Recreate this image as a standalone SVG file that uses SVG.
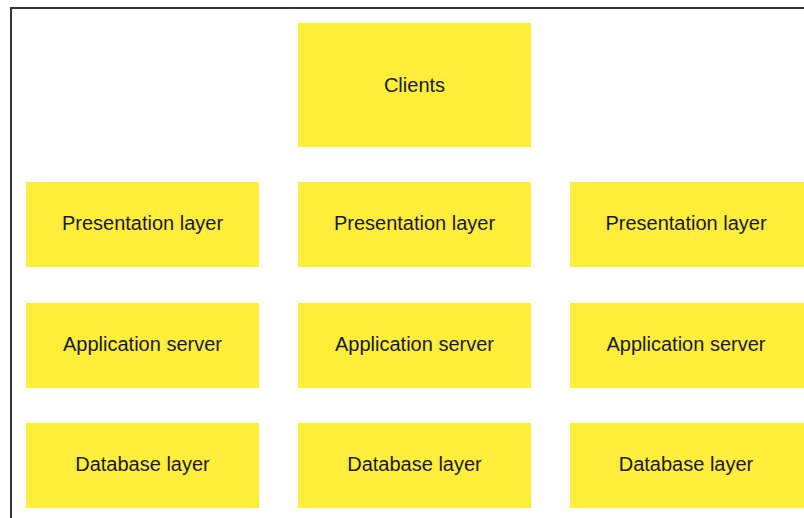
<svg xmlns="http://www.w3.org/2000/svg" width="804" height="518" viewBox="0 0 804 518">
<style>
.box{fill:#FEEE3A;}
.t{font-family:"Liberation Sans",Arial,sans-serif;font-size:20px;fill:#1a1a1a;text-anchor:middle;dominant-baseline:central;}
.frame{fill:none;stroke:#333;stroke-width:2;}
</style>
<rect width="804" height="518" fill="#fff"/>
<path class="frame" d="M11,518 V8 H804"/>
<g id="clients"><rect class="box" x="298" y="23" width="233" height="124"/><text class="t" x="414.5" y="85">Clients</text></g>
<g id="pres1"><rect class="box" x="26" y="182" width="233" height="85"/><text class="t" x="142.5" y="223">Presentation layer</text></g>
<g id="pres2"><rect class="box" x="298" y="182" width="233" height="85"/><text class="t" x="414.5" y="223">Presentation layer</text></g>
<g id="pres3"><rect class="box" x="570" y="182" width="234" height="85"/><text class="t" x="686" y="223">Presentation layer</text></g>
<g id="app1"><rect class="box" x="26" y="303" width="233" height="85"/><text class="t" x="142.5" y="344">Application server</text></g>
<g id="app2"><rect class="box" x="298" y="303" width="233" height="85"/><text class="t" x="414.5" y="344">Application server</text></g>
<g id="app3"><rect class="box" x="570" y="303" width="234" height="85"/><text class="t" x="686" y="344">Application server</text></g>
<g id="db1"><rect class="box" x="26" y="423" width="233" height="85"/><text class="t" x="142.5" y="464">Database layer</text></g>
<g id="db2"><rect class="box" x="298" y="423" width="233" height="85"/><text class="t" x="414.5" y="464">Database layer</text></g>
<g id="db3"><rect class="box" x="570" y="423" width="234" height="85"/><text class="t" x="686" y="464">Database layer</text></g>
<g id="connectors"></g>
</svg>
